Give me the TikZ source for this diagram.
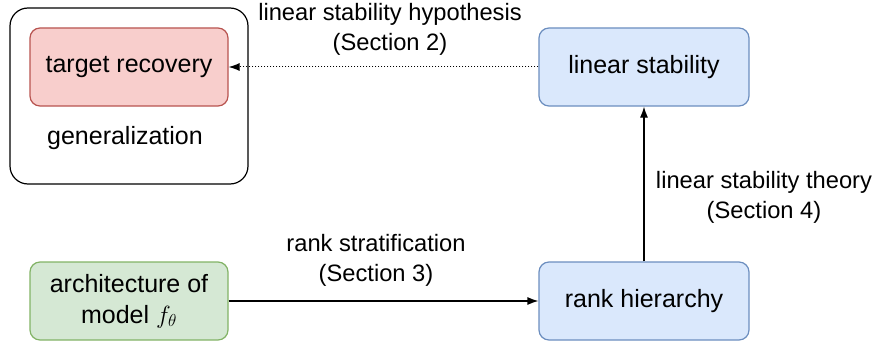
\documentclass[tikz,border=0pt]{standalone}
\usepackage{fontspec}
\setmainfont{Liberation Sans}
\usepackage{tikz}
\usetikzlibrary{arrows.meta}

\definecolor{redfill}{HTML}{F8CECC}
\definecolor{redline}{HTML}{B85450}
\definecolor{bluefill}{HTML}{DAE8FC}
\definecolor{blueline}{HTML}{6C8EBF}
\definecolor{greenfill}{HTML}{D5E8D4}
\definecolor{greenline}{HTML}{82B366}

\begin{document}
\begin{tikzpicture}[x=1pt,y=-1pt,
  every node/.style={font=\fontsize{23.7}{30}\selectfont, inner sep=0pt},
  box/.style={rounded corners=10pt, line width=1.2pt, minimum height=78pt, align=center,
    font=\fontsize{25}{31}\selectfont},
  redbox/.style={box, fill=redfill, draw=redline, minimum width=198pt},
  bluebox/.style={box, fill=bluefill, draw=blueline, minimum width=210pt},
  greenbox/.style={box, fill=greenfill, draw=greenline, minimum width=198pt},
  lbl/.style={align=center},
  >={Latex[length=11pt,width=8pt]}]

\useasboundingbox (0,0) rectangle (875,345);

% outer group
\draw [rounded corners=18pt, line width=1.2pt] (10,8) rectangle (248,184);
\node [font=\fontsize{25}{31}\selectfont] (gen) at (125,138) {generalization};

\node [redbox] (target) at (129,67) {target recovery};
\node [bluebox] (linstab) at (644,67) {linear stability};
\node [greenbox] (arch) at (129,301) {architecture of\\model $f_\theta$};
\node [bluebox] (rank) at (644,301) {rank hierarchy};

\draw [->,dotted,line width=1pt] (linstab) -- (target);
\draw [->,line width=1.2pt] (arch) -- (rank);
\draw [->,line width=1.2pt] (rank) -- (linstab);

\node [lbl] (hyp) at (390,29) {linear stability hypothesis\\(Section 2)};
\node [lbl] (strat) at (376,260) {rank stratification\\(Section 3)};
\node [lbl] (theory) at (764,197) {linear stability theory\\(Section 4)};

\end{tikzpicture}
\end{document}
